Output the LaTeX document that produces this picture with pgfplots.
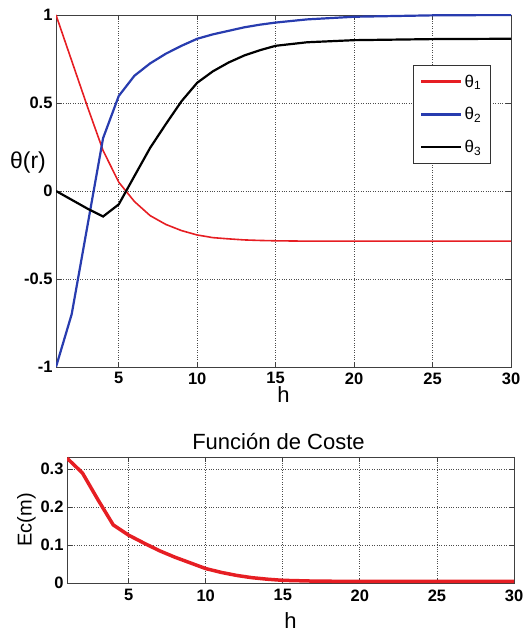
\documentclass[border=0pt]{standalone}
\usepackage{fontspec}
\setmainfont{Liberation Sans}
\usepackage{pgfplots}
\pgfplotsset{compat=1.18}
\definecolor{mred}{RGB}{230,30,35}
\definecolor{mblue}{RGB}{40,60,175}

\pgfplotstableread{
h   t1      t2      t3
1   1.000  -1.000   0.000
2   0.740  -0.700  -0.050
3   0.480  -0.200  -0.100
4   0.230   0.300  -0.145
5   0.050   0.540  -0.076
6  -0.060   0.655   0.085
7  -0.140   0.725   0.245
8  -0.190   0.780   0.380
9  -0.225   0.825   0.510
10 -0.250   0.865   0.615
11 -0.265   0.890   0.680
12 -0.272   0.910   0.730
13 -0.278   0.930   0.770
14 -0.281   0.945   0.800
15 -0.283   0.957   0.825
17 -0.285   0.975   0.845
20 -0.285   0.990   0.857
25 -0.285   0.998   0.863
30 -0.285   1.000   0.865
}\thetadata

\pgfplotstableread{
h   ec
1   0.329
2   0.290
3   0.220
4   0.153
5   0.126
6   0.105
7   0.085
8   0.068
9   0.053
10  0.038
11  0.028
12  0.020
13  0.014
14  0.010
15  0.007
17  0.005
20  0.004
30  0.004
}\costdata

\begin{document}
\begin{tikzpicture}
\useasboundingbox (0pt,0pt) rectangle (526pt,634pt);
\pgfplotsset{
  every axis/.append style={
    scale only axis,
    anchor=south west,
    axis line style={black!75, line width=0.8pt},
    tick style={black!75, line width=0.8pt},
    tick align=inside,
    major tick length=5pt,
    grid=major,
    major grid style={black!70, dotted, line width=0.8pt},
    xmin=1, xmax=30,
    xtick={5,10,15,20,25,30},
    tick label style={font=\fontsize{16.5}{18}\selectfont\bfseries},
    /pgf/number format/assume math mode=true,
  }
}
\begin{axis}[
  at={(56pt,267pt)}, width=455pt, height=352pt,
  ymin=-1, ymax=1,
  ytick={-1,-0.5,0,0.5,1},
  yticklabels={-1,-0.5,0,0.5,1},
  xticklabel style={yshift=-2pt},
  xlabel={h},
  xlabel style={font=\fontsize{22}{24}\selectfont, yshift=5pt},
  ylabel={θ(r)},
  ylabel style={font=\fontsize{23}{25}\selectfont, rotate=-90, at={(rel axis cs:0,0.58)}, anchor=center, xshift=-28pt},
  legend style={at={(0.955,0.857)}, anchor=north east, draw=black!80, line width=0.8pt,
    font=\fontsize{17}{19}\selectfont, row sep=15pt, inner sep=7pt, cells={anchor=west}},
  legend image code/.code={\draw[#1] (0pt,0pt) -- (40pt,0pt);},
]
\addlegendimage{mred, line width=2.4pt}
\addlegendimage{mblue, line width=2.4pt}
\addlegendimage{black, line width=2.4pt}
\addplot[mred, line width=1.6pt, forget plot] table[x=h, y=t1] {\thetadata};
\addplot[mblue, line width=2.2pt, forget plot] table[x=h, y=t2] {\thetadata};
\addplot[black, line width=2.2pt, forget plot] table[x=h, y=t3] {\thetadata};
\legend{θ\textsubscript{1}, θ\textsubscript{2}, θ\textsubscript{3}}
\end{axis}

\begin{axis}[
  at={(67pt,51pt)}, width=447pt, height=126pt,
  ymin=0, ymax=0.332,
  ytick={0,0.1,0.2,0.3},
  yticklabels={0,0.1,0.2,0.3},
  xticklabel style={yshift=-3pt},
  title={Función de Coste},
  title style={font=\fontsize{22}{24}\selectfont, yshift=-2pt, xshift=-12pt},
  xlabel={h},
  xlabel style={font=\fontsize{22}{24}\selectfont, yshift=-4pt},
  ylabel={Ec(m)},
  ylabel style={font=\fontsize{20}{22}\selectfont, yshift=-2pt},
]
\addplot[mred, line width=3.5pt] table[x=h, y=ec] {\costdata};
\end{axis}
\end{tikzpicture}
\end{document}
